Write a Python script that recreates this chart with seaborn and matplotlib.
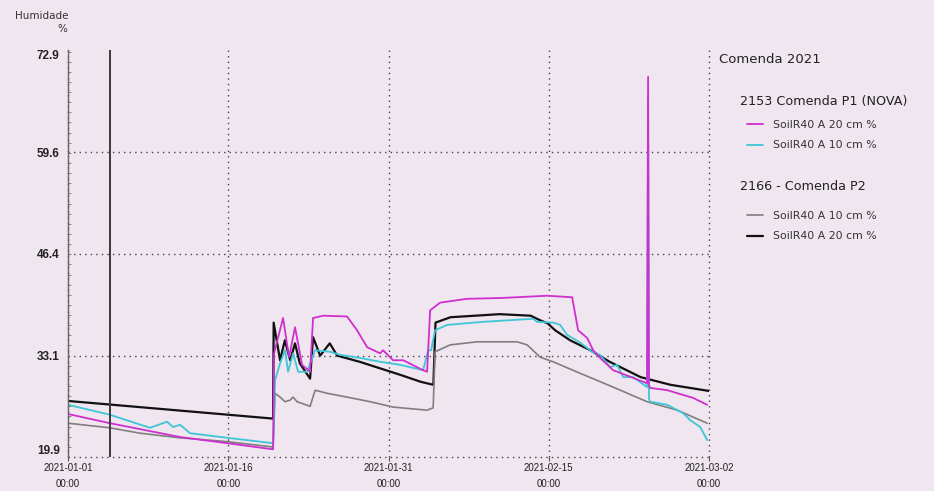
import matplotlib
matplotlib.use("Agg")
import matplotlib.pyplot as plt
from matplotlib.ticker import AutoMinorLocator
from matplotlib.lines import Line2D
import pandas as pd
import seaborn as sns

# days since 2021-01-01 00:00 and humidity (%)
p1_20_days = [0, 3.93, 10.49, 14.89, 19.2, 19.29, 20.13, 20.69, 21.25, 21.91, 22.66, 22.94,
              23.88, 26.12, 27.06, 28.0, 29.21, 29.49, 30.43, 31.37, 33.24, 33.61, 33.9, 34.83,
              37.36, 40.45, 44.85, 47.19, 47.75, 48.6, 49.16, 49.81, 51.03, 52.9, 54.2, 54.3,
              54.38, 54.49, 56.09, 58.5, 59.83]
p1_20_vals = [25.5, 24.3, 22.5, 21.7, 20.9, 33.4, 38.0, 32.9, 36.8, 31.9, 31.0, 38.0,
              38.3, 38.2, 36.4, 34.2, 33.4, 33.8, 32.5, 32.5, 31.2, 31.0, 39.0, 40.0,
              40.5, 40.6, 40.9, 40.7, 36.4, 35.4, 33.8, 32.8, 31.2, 30.2, 29.5, 69.4,
              29.2, 28.9, 28.6, 27.6, 26.7]

p1_10_days = [0, 3.93, 7.68, 9.27, 9.83, 10.49, 11.42, 14.89, 19.2, 19.38, 19.85, 20.32,
              20.6, 21.07, 21.54, 22.38, 23.13, 24.53, 25.47, 27.34, 29.21, 31.09, 33.24,
              33.71, 33.99, 34.36, 35.49, 38.86, 43.54, 43.91, 45.41, 46.07, 46.72, 47.94,
              49.06, 49.81, 50.75, 51.4, 51.97, 52.9, 54.2, 54.3, 54.38, 54.49, 56.09, 57.58,
              58.24, 59.18, 59.83]
p1_10_vals = [26.7, 25.4, 23.7, 24.5, 23.8, 24.1, 23.0, 22.4, 21.7, 29.9, 32.1, 33.8,
              31.0, 33.4, 31.0, 31.0, 33.8, 33.6, 33.2, 32.8, 32.3, 31.9, 31.2,
              33.8, 33.8, 36.4, 37.1, 37.5, 37.9, 37.5, 37.4, 37.1, 35.8, 34.8,
              33.6, 33.2, 31.6, 31.9, 30.3, 30.3, 29.0, 66.8, 27.5, 27.1, 26.7, 25.6,
              24.7, 23.8, 22.1]

p2_10_days = [0, 3.93, 6.74, 10.49, 14.89, 19.2, 19.38, 19.85, 20.32, 20.79, 21.07, 21.44,
              22.66, 23.13, 24.25, 26.12, 28.28, 30.43, 33.61, 34.18, 34.36, 35.77, 38.3,
              42.04, 42.98, 44.19, 45.41, 47.94, 51.03, 54.21, 57.02, 59.83]
p2_10_vals = [24.3, 23.7, 23.0, 22.4, 21.9, 21.2, 28.2, 27.7, 27.1, 27.3, 27.7, 27.1,
              26.5, 28.6, 28.2, 27.7, 27.1, 26.4, 26.0, 26.3, 33.6, 34.5, 34.9,
              34.9, 34.5, 32.9, 32.3, 30.8, 29.0, 27.1, 26.0, 24.3]

p2_20_days = [0, 19.2, 19.25, 19.85, 20.3, 20.8, 21.25, 21.7, 22.66, 22.94, 23.6, 24.5,
              25.2, 27.3, 31.1, 33.0, 34.2, 34.4, 35.8, 40.4, 43.3, 44.2, 44.9, 45.6, 47.0,
              48.9, 50.7, 53.6, 56.4, 60.0]
p2_20_vals = [27.2, 24.9, 37.4, 32.5, 35.1, 32.5, 34.7, 32.1, 30.1, 35.5, 33.1, 34.7,
              33.1, 32.3, 30.6, 29.7, 29.3, 37.4, 38.1, 38.5, 38.3, 37.7, 37.3, 36.4, 35.1,
              33.8, 32.3, 30.3, 29.3, 28.5]

cursor_day = 3.93
y_ticks = [19.9, 33.1, 46.4, 59.6, 72.9]
x_tick_days = [0, 15, 30, 45, 60]

start = pd.Timestamp("2021-01-01")
bg = "#efe6f0"


def to_df(days, vals):
    return pd.DataFrame({"time": start + pd.to_timedelta(days, unit="D"), "hum": vals})


sns.set_style("white")
plt.rcParams["font.family"] = ["DejaVu Sans"]

fig = plt.figure(figsize=(9.34, 4.91), dpi=100, facecolor=bg)
ax = fig.add_axes([68 / 934, 1 - 457 / 491, (709 - 68) / 934, (457 - 50) / 491])
ax.set_facecolor(bg)

series = [
    (p1_20_days, p1_20_vals, "#cf2fcf", 1.3, "SoilR40 A 20 cm %"),
    (p1_10_days, p1_10_vals, "#3ec6d6", 1.3, "SoilR40 A 10 cm %"),
    (p2_10_days, p2_10_vals, "#7f7f7f", 1.2, "SoilR40 A 10 cm %"),
    (p2_20_days, p2_20_vals, "#111111", 1.6, "SoilR40 A 20 cm %"),
]
for days, vals, col, lw, lab in series[::-1]:
    sns.lineplot(data=to_df(days, vals), x="time", y="hum", color=col, linewidth=lw,
                 sort=False, estimator=None, ax=ax)

ax.axvline(start + pd.Timedelta(days=cursor_day), color="#3a3a3a", linewidth=1.4)

ax.set_ylim(y_ticks[0], y_ticks[-1])
ax.set_xlim(start, start + pd.Timedelta(days=60))
ax.set_yticks(y_ticks)
ax.set_yticklabels([f"{v:.1f}" for v in y_ticks], fontsize=8.5, fontweight="bold",
                   color="#222222", family="Liberation Sans")
ax.yaxis.set_minor_locator(AutoMinorLocator(10))
ax.tick_params(axis="y", which="major", direction="out", length=4, color="#555555", pad=2)
ax.tick_params(axis="y", which="minor", direction="in", length=2, color="#777777", left=True)
ylabels = ax.get_yticklabels()
ylabels[0].set_va("bottom")
ylabels[-1].set_va("top")

xt = [start + pd.Timedelta(days=d) for d in x_tick_days]
ax.set_xticks(xt)
ax.set_xticklabels([t.strftime("%Y-%m-%d\n%H:%M") for t in xt], fontsize=7,
                   color="#222222", family="Liberation Sans", linespacing=1.75)
ax.tick_params(axis="x", which="major", direction="out", length=3, color="#555555", pad=1,
               bottom=True)

ax.grid(True, which="major", linestyle=(0, (1, 3)), color="#444444", linewidth=1.0)
ax.yaxis.get_gridlines()[-1].set_visible(False)
for gl in ax.get_xgridlines() + ax.get_ygridlines():
    gl.set_clip_on(False)
for s in ["top", "right", "bottom"]:
    ax.spines[s].set_visible(False)
ax.spines["left"].set_color("#666666")
ax.spines["left"].set_linewidth(1.0)
ax.set_xlabel("")
ax.set_ylabel("")

fig.text(68 / 934, 1 - 16 / 491, "Humidade", ha="right", va="center", fontsize=7.5,
         color="#333333")
fig.text(67 / 934, 1 - 29 / 491, "%", ha="right", va="center", fontsize=7.5, color="#333333")

# legend block on the right
fig.text(719 / 934, 1 - 60 / 491, "Comenda 2021", fontsize=9.5, va="center", color="#222222")
fig.text(740 / 934, 1 - 101 / 491, "2153 Comenda P1 (NOVA)", fontsize=9.2, va="center",
         color="#222222")
fig.text(740 / 934, 1 - 187 / 491, "2166 - Comenda P2", fontsize=9.2, va="center",
         color="#222222")

groups = [(series[:2], 1 - 118 / 491), (series[2:], 1 - 209 / 491)]
for grp, ytop in groups:
    handles = [Line2D([], [], color=c, linewidth=lw) for _, _, c, lw, _ in grp]
    labels = [lab for *_, lab in grp]
    leg = fig.legend(handles, labels, loc="upper left", bbox_to_anchor=(745 / 934, ytop),
                     frameon=False, fontsize=7.8, handlelength=1.5, handletextpad=0.9,
                     labelspacing=0.95, borderaxespad=0, borderpad=0.2)
    for t in leg.get_texts():
        t.set_color("#333333")

fig.savefig("out.png", dpi=100, facecolor=bg)
